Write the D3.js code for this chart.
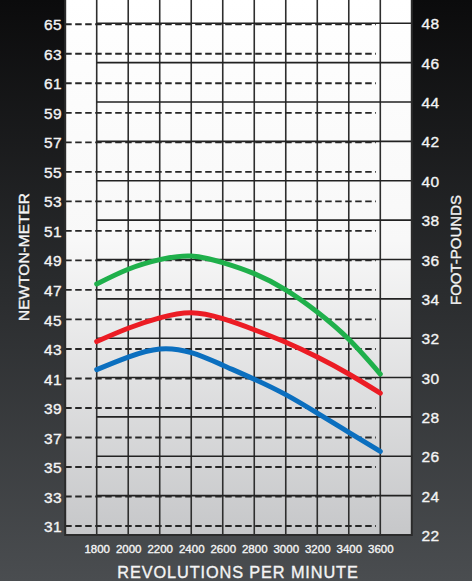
<!DOCTYPE html>
<html>
<head>
<meta charset="utf-8">
<script src="https://cdn.jsdelivr.net/npm/d3@7"></script>
<style>
  html, body { margin: 0; padding: 0; background: #000; }
  svg { display: block; }
</style>
</head>
<body>
<svg id="chart" width="472" height="581"></svg>
<script>
// ---- data ----
const rpm = [1800, 2000, 2200, 2400, 2600, 2800, 3000, 3200, 3400, 3600];
const greenNm = [47.4, 48.4, 49.05, 49.3, 48.85, 48.1, 47.0, 45.5, 43.65, 41.3];
const redNm   = [43.5, 44.4, 45.1, 45.45, 45.05, 44.3, 43.45, 42.45, 41.3, 40.0];
const blueNm  = [41.6, 42.45, 43.0, 42.75, 41.9, 40.95, 39.9, 38.65, 37.35, 36.05];
const nmTicks = [31, 33, 35, 37, 39, 41, 43, 45, 47, 49, 51, 53, 55, 57, 59, 61, 63, 65];
const ftlbTicks = [22, 24, 26, 28, 30, 32, 34, 36, 38, 40, 42, 44, 46, 48];
const rpmTicks = rpm;
const seriesColors = ["#1fb04b", "#ec1c24", "#0b6fbf"];
const xTitle = "REVOLUTIONS PER MINUTE";
const leftTitle = "NEWTON-METER";
const rightTitle = "FOOT-POUNDS";

// ---- layout ----
const W = 472, H = 581;
const plotL = 65.2, plotR = 411.8, plotT = 0, plotB = 535;

const svg = d3.select("#chart");
const defs = svg.append("defs");

const bg = defs.append("linearGradient").attr("id", "bg").attr("x1", 0).attr("y1", 0).attr("x2", 0).attr("y2", 1);
bg.append("stop").attr("offset", "0%").attr("stop-color", "#0b0b0c");
bg.append("stop").attr("offset", "50%").attr("stop-color", "#2a2c2e");
bg.append("stop").attr("offset", "100%").attr("stop-color", "#4a4d50");

const pg = defs.append("linearGradient").attr("id", "pg").attr("x1", 0).attr("y1", 0).attr("x2", 0).attr("y2", 1);
pg.append("stop").attr("offset", "0%").attr("stop-color", "#ffffff");
pg.append("stop").attr("offset", "45%").attr("stop-color", "#f8f8f8");
pg.append("stop").attr("offset", "100%").attr("stop-color", "#c6c7c9");

svg.append("rect").attr("width", W).attr("height", H).attr("fill", "url(#bg)");

// scales
const x = d3.scaleLinear().domain([1600, 3800]).range([plotL, plotR]);
const yNm = d3.scaleLinear().domain([31, 65]).range([526, 24.3]);
const yFt = d3.scaleLinear().domain([22, 48]).range([535, 23.3]);

// plot background
svg.append("rect")
  .attr("x", plotL).attr("y", plotT)
  .attr("width", plotR - plotL).attr("height", plotB - plotT)
  .attr("fill", "url(#pg)");

// vertical grid
svg.append("g").selectAll("line").data(rpmTicks).join("line")
  .attr("x1", d => x(d)).attr("x2", d => x(d))
  .attr("y1", plotT).attr("y2", plotB)
  .attr("stroke", "#2e2e2e").attr("stroke-width", 1.6);

// solid ft-lb lines
svg.append("g").selectAll("line").data(ftlbTicks.filter(d => d > 22)).join("line")
  .attr("x1", x(1800)).attr("x2", plotR)
  .attr("y1", d => yFt(d)).attr("y2", d => yFt(d))
  .attr("stroke", "#222").attr("stroke-width", 1.6);

// dashed Nm lines
svg.append("g").selectAll("line").data(nmTicks).join("line")
  .attr("x1", plotL).attr("x2", 376)
  .attr("y1", d => yNm(d)).attr("y2", d => yNm(d))
  .attr("stroke", "#262626").attr("stroke-width", 1.9)
  .attr("stroke-dasharray", "6.5,3.5");

// border
svg.append("path")
  .attr("d", `M${plotL},${plotT}V${plotB}H${plotR}V${plotT}`)
  .attr("fill", "none").attr("stroke", "#2b2b2b").attr("stroke-width", 2);

// curves
const line = d3.line().x((d, i) => x(rpm[i])).y(d => yNm(d)).curve(d3.curveNatural);
[greenNm, redNm, blueNm].forEach((s, k) => {
  svg.append("path").datum(s)
    .attr("d", line)
    .attr("fill", "none")
    .attr("stroke", seriesColors[k])
    .attr("stroke-width", 5)
    .attr("stroke-linecap", "round")
    .attr("stroke-linejoin", "round");
});

const font = "'Liberation Sans', Arial, Helvetica, sans-serif";
const txt = "#f4f4f4";

function styleText(sel, size) {
  sel.attr("fill", txt).attr("stroke", txt).attr("stroke-width", 0.35)
     .attr("font-size", size).attr("font-family", font);
}

// left axis labels
const leftAxis = d3.axisLeft(yNm).tickValues(nmTicks).tickSize(0).tickPadding(0);
const gl = svg.append("g").attr("transform", `translate(62,0)`).call(leftAxis);
gl.select(".domain").remove();
styleText(gl.selectAll("text").attr("dy", "0.36em").attr("letter-spacing", 0.4), 15.5);

// right axis labels
const rightAxis = d3.axisRight(yFt).tickValues(ftlbTicks).tickSize(0).tickPadding(0);
const gr = svg.append("g").attr("transform", `translate(421.5,0)`).call(rightAxis);
gr.select(".domain").remove();
styleText(gr.selectAll("text").attr("dy", "0.36em").attr("letter-spacing", 0.4), 15.5);

// bottom axis labels
const bottomAxis = d3.axisBottom(x).tickValues(rpmTicks).tickSize(0).tickPadding(0).tickFormat(d3.format("d"));
const gb = svg.append("g").attr("transform", `translate(0,549)`).call(bottomAxis);
gb.select(".domain").remove();
styleText(gb.selectAll("text").attr("dy", "0.36em"), 11.5);

// titles
styleText(svg.append("text").attr("x", 238).attr("y", 572).attr("dy", "0.36em")
  .attr("text-anchor", "middle").attr("letter-spacing", 0.9).text(xTitle), 16.3);

styleText(svg.append("text").attr("transform", "translate(23,257) rotate(-90)").attr("dy", "0.36em")
  .attr("text-anchor", "middle").text(leftTitle), 15.5);

styleText(svg.append("text").attr("transform", "translate(456,250) rotate(-90)").attr("dy", "0.36em")
  .attr("text-anchor", "middle").text(rightTitle), 15);
</script>
</body>
</html>
